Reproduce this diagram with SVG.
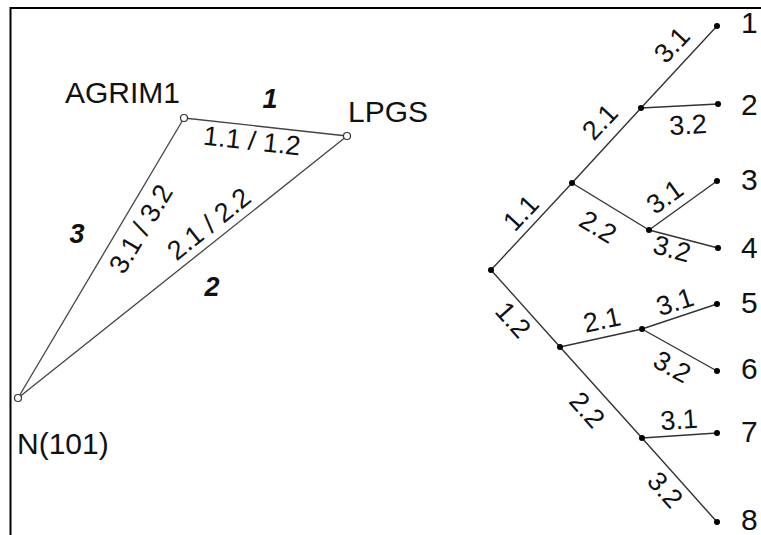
<svg xmlns="http://www.w3.org/2000/svg" width="761" height="535" viewBox="0 0 761 535">
<style>
text{font-family:"Liberation Sans",Arial,sans-serif;fill:#111}
.big{font-size:30px}
.lab{font-size:27px;text-anchor:middle;dominant-baseline:central}
.bi{font-size:27px;font-weight:bold;font-style:italic;text-anchor:middle;dominant-baseline:central}
.tri{stroke:#444;stroke-width:1.3;fill:none}
.ed{stroke:#333;stroke-width:1.4;fill:none}
.st{fill:#fff;stroke:#333;stroke-width:1.2}
.dot{fill:#000}
</style>
<path d="M10.5,535 V8 H761" fill="none" stroke="#000" stroke-width="2"/>
<g id="connectors">
<line class="tri" x1="184" y1="118" x2="347" y2="136"/>
<line class="tri" x1="18" y1="398" x2="184" y2="118"/>
<line class="tri" x1="18" y1="398" x2="347" y2="136"/>
<polyline class="ed" points="491,270 572,183 641,108 717,26"/>
<line class="ed" x1="641" y1="108" x2="718" y2="104"/>
<polyline class="ed" points="572,183 649,230 717,181"/>
<line class="ed" x1="649" y1="230" x2="718" y2="248"/>
<polyline class="ed" points="491,270 560,347 642,438 717,522"/>
<polyline class="ed" points="560,347 642,329 717,304"/>
<line class="ed" x1="642" y1="329" x2="717" y2="371"/>
<line class="ed" x1="642" y1="438" x2="717" y2="433"/>
</g>
<g id="edge-labels">
<text class="bi" x="270" y="99">1</text>
<text class="bi" x="77" y="234">3</text>
<text class="bi" x="212" y="287">2</text>
<text class="lab" transform="translate(252,141) rotate(6.3)">1.1 / 1.2</text>
<text class="lab" transform="translate(141,229) rotate(-59.3)">3.1 / 3.2</text>
<text class="lab" transform="translate(209,224) rotate(-38.5)">2.1 / 2.2</text>
<text class="lab" transform="translate(672,45) rotate(-47)">3.1</text>
<text class="lab" transform="translate(600,122) rotate(-47)">2.1</text>
<text class="lab" transform="translate(688,125) rotate(-3)">3.2</text>
<text class="lab" transform="translate(521,213) rotate(-47)">1.1</text>
<text class="lab" transform="translate(598,227) rotate(31)">2.2</text>
<text class="lab" transform="translate(665,197) rotate(-36)">3.1</text>
<text class="lab" transform="translate(672,249) rotate(15)">3.2</text>
<text class="lab" transform="translate(513,320) rotate(48)">1.2</text>
<text class="lab" transform="translate(602,320) rotate(-12)">2.1</text>
<text class="lab" transform="translate(675,302) rotate(-18)">3.1</text>
<text class="lab" transform="translate(672,367) rotate(29)">3.2</text>
<text class="lab" transform="translate(587,410) rotate(48)">2.2</text>
<text class="lab" transform="translate(679,420) rotate(-4)">3.1</text>
<text class="lab" transform="translate(665,490) rotate(48)">3.2</text>
</g>
<g id="AGRIM1"><circle class="st" cx="184" cy="118" r="3.5"/><text class="big" x="65" y="103">AGRIM1</text></g>
<g id="LPGS"><circle class="st" cx="347" cy="136" r="3.5"/><text class="big" x="348" y="122">LPGS</text></g>
<g id="N101"><circle class="st" cx="18" cy="398" r="3.5"/><text class="big" x="17" y="454">N(101)</text></g>
<g id="root"><circle class="dot" cx="491" cy="270" r="3"/></g>
<g id="n-a"><circle class="dot" cx="641" cy="108" r="3"/></g>
<g id="n-b"><circle class="dot" cx="572" cy="183" r="3"/></g>
<g id="n-c"><circle class="dot" cx="649" cy="230" r="3"/></g>
<g id="n-d"><circle class="dot" cx="560" cy="347" r="3"/></g>
<g id="n-e"><circle class="dot" cx="642" cy="329" r="3"/></g>
<g id="n-f"><circle class="dot" cx="642" cy="438" r="3"/></g>
<g id="leaf1"><circle class="dot" cx="717" cy="26" r="3"/><text class="big" x="741" y="33">1</text></g>
<g id="leaf2"><circle class="dot" cx="718" cy="104" r="3"/><text class="big" x="741" y="115">2</text></g>
<g id="leaf3"><circle class="dot" cx="717" cy="181" r="3"/><text class="big" x="741" y="190">3</text></g>
<g id="leaf4"><circle class="dot" cx="718" cy="248" r="3"/><text class="big" x="741" y="258">4</text></g>
<g id="leaf5"><circle class="dot" cx="717" cy="304" r="3"/><text class="big" x="741" y="313">5</text></g>
<g id="leaf6"><circle class="dot" cx="717" cy="371" r="3"/><text class="big" x="741" y="379">6</text></g>
<g id="leaf7"><circle class="dot" cx="717" cy="433" r="3"/><text class="big" x="741" y="442">7</text></g>
<g id="leaf8"><circle class="dot" cx="717" cy="522" r="3"/><text class="big" x="741" y="530">8</text></g>
</svg>
